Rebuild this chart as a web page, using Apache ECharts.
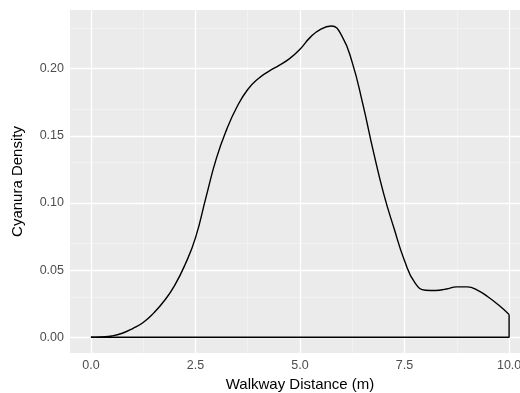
<!DOCTYPE html>
<html>
<head>
<meta charset="utf-8">
<script src="https://cdn.jsdelivr.net/npm/echarts@6/dist/echarts.min.js"></script>
<style>
  html, body { margin: 0; padding: 0; background: #fff; overflow: hidden; }
  /* a bit wider than the window so the panel runs off the right edge like the original */
  #chart { width: 530px; height: 393px; }
</style>
</head>
<body>
<div id="chart"></div>
<script>
// density estimate
const distance = [0, 0.25, 0.5, 0.75, 1, 1.25, 1.5, 1.75, 2, 2.25, 2.5, 2.75, 3, 3.25, 3.5, 3.75, 4, 4.25, 4.5, 4.75,
  5, 5.25, 5.5, 5.75, 6, 6.25, 6.5, 6.75, 7, 7.25, 7.5, 7.75, 8, 8.25, 8.5, 8.75, 9, 9.25, 9.5, 9.75, 10];
const density = [0, 0.0003, 0.001, 0.003, 0.0065, 0.011, 0.018, 0.027, 0.0385, 0.054, 0.074, 0.104, 0.1332, 0.155,
  0.172, 0.1845, 0.1925, 0.198, 0.2025, 0.2075, 0.2145, 0.2235, 0.2295, 0.2318, 0.2245, 0.2045, 0.174, 0.139, 0.107,
  0.081, 0.057, 0.0405, 0.035, 0.0348, 0.036, 0.0375, 0.0375, 0.035, 0.03, 0.024, 0.017];
// bottom edge of the density polygon
const closeX = [10, 10, 0];
const closeY = [0.017, 0, 0];

const xTicks = [0, 2.5, 5, 7.5, 10];
const xMinor = [1.25, 3.75, 6.25, 8.75];
const yTicks = [0, 0.05, 0.1, 0.15, 0.2];
const yMinor = [0.025, 0.075, 0.125, 0.175, 0.225];

const chart = echarts.init(document.getElementById("chart"));

const major = { color: "#ffffff", width: 1.3, type: "solid" };
const minor = { color: "#f7f7f7", width: 0.6, type: "solid" };
const gridLines = [
  ...xMinor.map((v) => ({ xAxis: v, lineStyle: minor })),
  ...yMinor.map((v) => ({ yAxis: v, lineStyle: minor })),
  ...xTicks.map((v) => ({ xAxis: v, lineStyle: major })),
  ...yTicks.map((v) => ({ yAxis: v, lineStyle: major })),
];

const font = "Liberation Sans";
const tickLabel = { color: "#4d4d4d", fontSize: 12.5, fontFamily: font };
const title = { color: "#000", fontSize: 15, fontFamily: font };

chart.setOption({
  animation: false,
  grid: {
    left: 70,
    right: 0,
    top: 10,
    bottom: 40,
    outerBoundsMode: "none",
    containLabel: false,
    show: true,
    backgroundColor: "#ebebeb",
    borderWidth: 0,
  },
  xAxis: {
    type: "value",
    min: -0.5,
    max: 10.5,
    name: "Walkway Distance (m)",
    nameLocation: "middle",
    nameGap: 24,
    nameTextStyle: title,
    axisLine: { show: false },
    axisTick: { show: true, customValues: xTicks, length: 4, lineStyle: { color: "#333" } },
    axisLabel: { ...tickLabel, customValues: xTicks, margin: 6, formatter: (v) => v.toFixed(1) },
    splitLine: { show: false },
  },
  yAxis: {
    type: "value",
    min: -0.0117,
    max: 0.2437,
    name: "Cyanura Density",
    nameLocation: "middle",
    nameRotate: 90,
    nameGap: 45,
    nameTextStyle: title,
    axisLine: { show: false },
    axisTick: { show: true, customValues: yTicks, length: 4, lineStyle: { color: "#333" } },
    axisLabel: { ...tickLabel, customValues: yTicks, margin: 6, formatter: (v) => v.toFixed(2) },
    splitLine: { show: false },
  },
  series: [
    {
      type: "line",
      data: [],
      markLine: {
        silent: true,
        symbol: ["none", "none"],
        label: { show: false },
        emphasis: { disabled: true },
        data: gridLines,
      },
    },
    {
      type: "line",
      zlevel: 1,
      smooth: 0.5,
      showSymbol: false,
      lineStyle: { color: "#000", width: 1.4 },
      data: distance.map((x, i) => [x, density[i]]),
    },
    {
      type: "line",
      zlevel: 1,
      showSymbol: false,
      lineStyle: { color: "#000", width: 1.4 },
      data: closeX.map((x, i) => [x, closeY[i]]),
    },
  ],
});
</script>
</body>
</html>
